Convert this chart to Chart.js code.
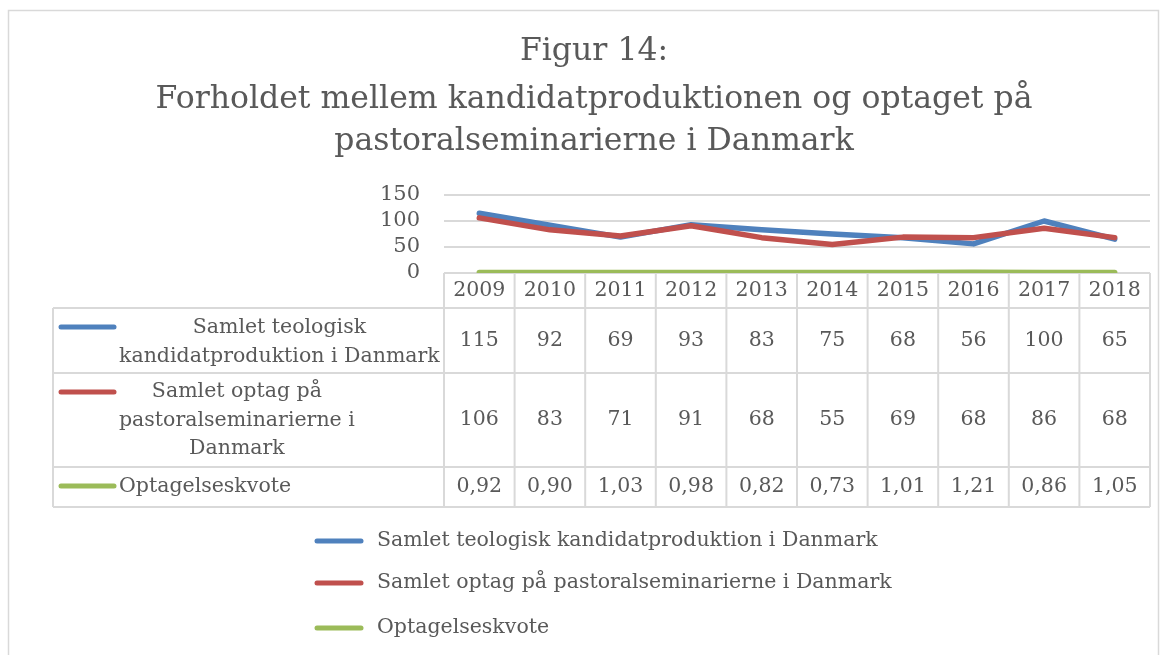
<!DOCTYPE html>
<html>
<head>
<meta charset="utf-8">
<script src="https://cdn.jsdelivr.net/npm/chart.js@4.4.1/dist/chart.umd.min.js"></script>
<style>
  html, body { margin: 0; padding: 0; background: #fff; }
  #wrap { width: 1166px; height: 655px; }
</style>
</head>
<body>
<div id="wrap"><canvas id="figur14" width="1166" height="655"></canvas></div>
<script>
// data from Figur 14
const years = ["2009", "2010", "2011", "2012", "2013", "2014", "2015", "2016", "2017", "2018"];
const kandidater = [115, 92, 69, 93, 83, 75, 68, 56, 100, 65];
const optag = [106, 83, 71, 91, 68, 55, 69, 68, 86, 68];
const kvote = [0.92, 0.90, 1.03, 0.98, 0.82, 0.73, 1.01, 1.21, 0.86, 1.05];
const yTicks = [0, 50, 100, 150];

const seriesNames = [
  "Samlet teologisk kandidatproduktion i Danmark",
  "Samlet optag på pastoralseminarierne i Danmark",
  "Optagelseskvote"
];
// wrapped the way the table shows them
const tableNames = [
  ["Samlet teologisk", "kandidatproduktion i Danmark"],
  ["Samlet optag på", "pastoralseminarierne i", "Danmark"],
  ["Optagelseskvote"]
];
const colors = ["#4f81bd", "#c0504d", "#9bbb59"];
const titleLines = [
  "Figur 14:",
  "Forholdet mellem kandidatproduktionen og optaget på",
  "pastoralseminarierne i Danmark"
];

const FONT = '"DejaVu Serif", serif';
const TXT = "#595959";
const GRID = "#d9d9d9";

const fmt = v => Number.isInteger(v) ? String(v) : v.toFixed(2).replace(".", ",");

const extras = {
  id: "extras",
  afterDraw(chart) {
    const c = chart.ctx;
    const x = chart.scales.x;
    const area = chart.chartArea;
    const colW = x.getPixelForValue(1) - x.getPixelForValue(0);
    const tLeft = 53;
    const rows = [area.bottom, 308, 373, 467, 507];
    c.save();

    // frame
    c.strokeStyle = GRID;
    c.lineWidth = 1.5;
    c.strokeRect(8.5, 10.5, 1150, 700);

    // title
    c.fillStyle = TXT;
    c.textAlign = "center";
    c.textBaseline = "middle";
    c.font = "31.5px " + FONT;
    [52, 100, 142].forEach((y, i) => c.fillText(titleLines[i], 594, y));

    // table grid
    c.strokeStyle = GRID;
    c.lineWidth = 2;
    c.beginPath();
    for (let r = 1; r < rows.length; r++) {
      c.moveTo(tLeft, rows[r]);
      c.lineTo(area.right, rows[r]);
    }
    c.moveTo(tLeft, rows[1]);
    c.lineTo(tLeft, rows[4]);
    for (let i = 0; i <= years.length; i++) {
      const px = x.getPixelForValue(i) - colW / 2;
      c.moveTo(px, rows[0]);
      c.lineTo(px, rows[4]);
    }
    c.stroke();

    // table text
    c.font = "20.5px " + FONT;
    c.fillStyle = TXT;
    c.textAlign = "center";
    const hy = (rows[0] + rows[1]) / 2;
    years.forEach((yr, i) => c.fillText(yr, x.getPixelForValue(i), hy));
    [kandidater, optag, kvote].forEach((arr, s) => {
      const cy = (rows[s + 1] + rows[s + 2]) / 2;
      arr.forEach((v, i) => c.fillText(fmt(v), x.getPixelForValue(i), cy));
    });

    // series names in the table
    const nameY = [[328, 357], [392, 421, 449], [487]];
    const keyY = [327, 392, 486];
    tableNames.forEach((lines, s) => {
      c.strokeStyle = colors[s];
      c.lineWidth = 5;
      c.lineCap = "round";
      c.beginPath();
      c.moveTo(61, keyY[s]);
      c.lineTo(114, keyY[s]);
      c.stroke();
      const blockW = Math.max(...lines.map(l => c.measureText(l).width));
      c.textAlign = lines.length > 1 ? "center" : "left";
      lines.forEach((l, k) => {
        c.fillText(l, lines.length > 1 ? 119 + blockW / 2 : 119, nameY[s][k]);
      });
    });

    // legend below
    c.textAlign = "left";
    [541, 583, 628].forEach((y, s) => {
      c.strokeStyle = colors[s];
      c.lineWidth = 5;
      c.lineCap = "round";
      c.beginPath();
      c.moveTo(317, y);
      c.lineTo(361, y);
      c.stroke();
      c.fillText(seriesNames[s], 377, y);
    });
    c.restore();
  }
};

new Chart(document.getElementById("figur14"), {
  type: "line",
  data: {
    labels: years,
    datasets: [kandidater, optag, kvote].map((d, i) => ({
      label: seriesNames[i],
      data: d,
      order: 3 - i, // later series on top, as in the original
      borderColor: colors[i],
      backgroundColor: colors[i],
      borderWidth: 5.5,
      pointRadius: 0,
      tension: 0,
      borderCapStyle: "round",
      borderJoinStyle: "round",
    })),
  },
  options: {
    responsive: false,
    animation: false,
    layout: { padding: { left: 344, right: 16, top: 195, bottom: 382 } },
    plugins: {
      legend: { display: false },
      tooltip: { enabled: false },
    },
    scales: {
      x: {
        display: false,
        offset: true,
      },
      y: {
        min: 0,
        max: 150,
        afterBuildTicks: s => { s.ticks = yTicks.map(v => ({ value: v })); },
        afterFit: s => { s.width = 100; },
        ticks: { color: TXT, padding: 24, autoSkip: false, font: { family: FONT, size: 21 } },
        grid: { color: GRID, lineWidth: 2, drawTicks: false },
        border: { display: false },
      },
    },
  },
  plugins: [extras],
});
</script>
</body>
</html>
